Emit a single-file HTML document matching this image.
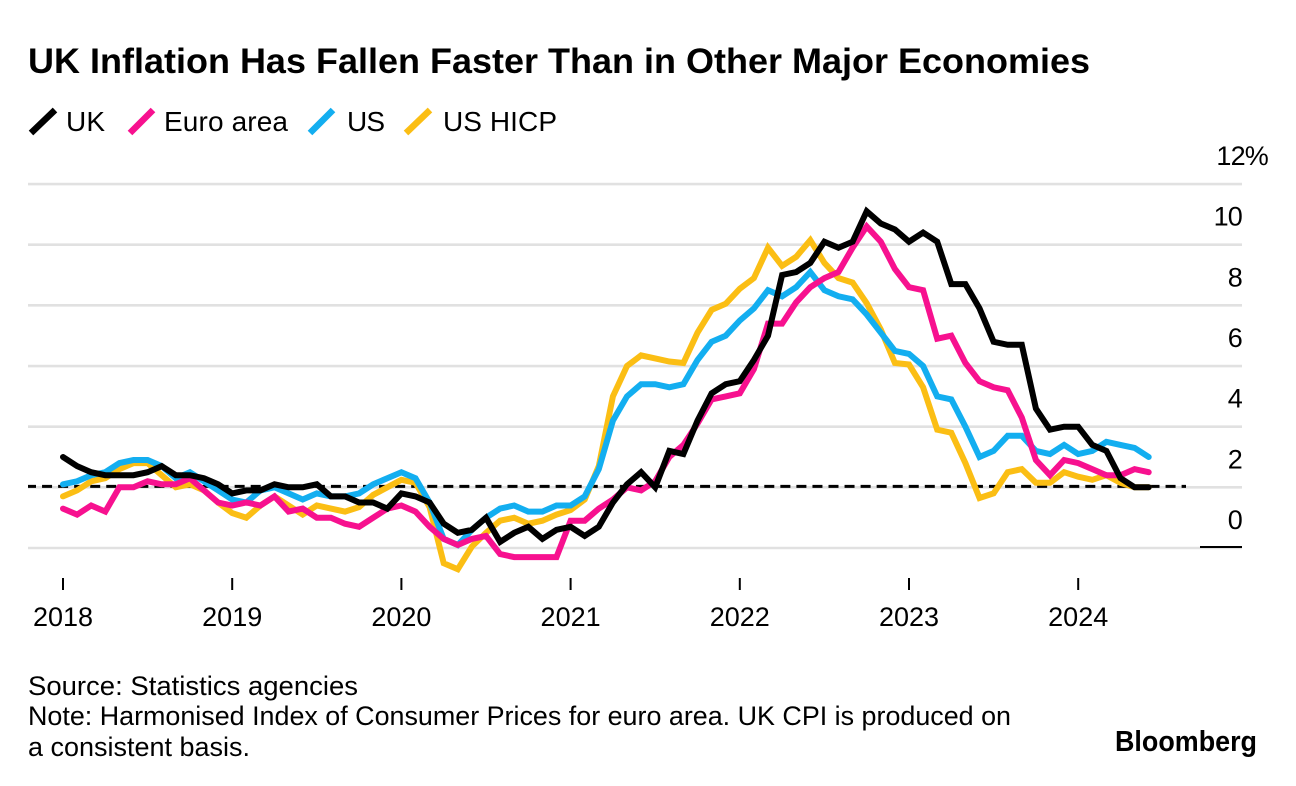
<!DOCTYPE html>
<html lang="en">
<head>
<meta charset="utf-8">
<title>UK Inflation Has Fallen Faster Than in Other Major Economies</title>
<style>
html,body{margin:0;padding:0;background:#fff;}
#chart{display:block;width:1296px;height:786px;font-family:"Liberation Sans",Arial,sans-serif;fill:#000;}
</style>
</head>
<body>
<svg id="chart" xmlns="http://www.w3.org/2000/svg" width="1296" height="786" viewBox="0 0 1296 786">
  <rect x="0" y="0" width="1296" height="786" fill="#fff"/>
  <text x="28" y="73" font-size="35.3" font-weight="700" textLength="1062" lengthAdjust="spacingAndGlyphs">UK Inflation Has Fallen Faster Than in Other Major Economies</text>

  <g>
    <g>
      <line x1="31" y1="133" x2="55" y2="110" stroke="#000" stroke-width="6.5"/>
      <text x="66" y="131" font-size="28" textLength="39" lengthAdjust="spacing">UK</text>
    </g>
    <g>
      <line x1="130" y1="133" x2="153" y2="110" stroke="#f7118f" stroke-width="6.5"/>
      <text x="164" y="131" font-size="28" textLength="124" lengthAdjust="spacing">Euro area</text>
    </g>
    <g>
      <line x1="310" y1="133" x2="333" y2="110" stroke="#13aef0" stroke-width="6.5"/>
      <text x="347" y="131" font-size="28" textLength="38" lengthAdjust="spacing">US</text>
    </g>
    <g>
      <line x1="406" y1="133" x2="430" y2="110" stroke="#fbbe14" stroke-width="6.5"/>
      <text x="443" y="131" font-size="28" textLength="114" lengthAdjust="spacing">US HICP</text>
    </g>
  </g>

  <g id="grid"></g>
  <g id="yLabels"></g>
  <g id="xAxis"></g>
  <g id="refLine"></g>
  <g id="series"></g>

  <text x="28" y="695" font-size="26.6" textLength="330" lengthAdjust="spacingAndGlyphs">Source: Statistics agencies</text>
  <text x="28" y="725" font-size="26.6" textLength="983" lengthAdjust="spacingAndGlyphs">Note: Harmonised Index of Consumer Prices for euro area. UK CPI is produced on</text>
  <text x="28" y="756" font-size="26.6" textLength="222" lengthAdjust="spacingAndGlyphs">a consistent basis.</text>
  <text x="1115" y="751" font-size="28.5" font-weight="700" textLength="142" lengthAdjust="spacingAndGlyphs">Bloomberg</text>
</svg>
<script>
// Monthly data, Jan 2018 - Jun 2024 (% year on year)
const years = ['2018','2019','2020','2021','2022','2023','2024'];
const yTickValues = [0,2,4,6,8,10,12];
const yTickLabels = ['0','2','4','6','8','10','12%'];
const refValue = 2;
const ukValues = [3.0,2.7,2.5,2.4,2.4,2.4,2.5,2.7,2.4,2.4,2.3,2.1,
  1.8,1.9,1.9,2.1,2.0,2.0,2.1,1.7,1.7,1.5,1.5,1.3,
  1.8,1.7,1.5,0.8,0.5,0.6,1.0,0.2,0.5,0.7,0.3,0.6,
  0.7,0.4,0.7,1.5,2.1,2.5,2.0,3.2,3.1,4.2,5.1,5.4,
  5.5,6.2,7.0,9.0,9.1,9.4,10.1,9.9,10.1,11.1,10.7,10.5,
  10.1,10.4,10.1,8.7,8.7,7.9,6.8,6.7,6.7,4.6,3.9,4.0,
  4.0,3.4,3.2,2.3,2.0,2.0];
const euroValues = [1.3,1.1,1.4,1.2,2.0,2.0,2.2,2.1,2.1,2.3,1.9,1.5,
  1.4,1.5,1.4,1.7,1.2,1.3,1.0,1.0,0.8,0.7,1.0,1.3,
  1.4,1.2,0.7,0.3,0.1,0.3,0.4,-0.2,-0.3,-0.3,-0.3,-0.3,
  0.9,0.9,1.3,1.6,2.0,1.9,2.2,3.0,3.4,4.1,4.9,5.0,
  5.1,5.9,7.4,7.4,8.1,8.6,8.9,9.1,9.9,10.6,10.1,9.2,
  8.6,8.5,6.9,7.0,6.1,5.5,5.3,5.2,4.3,2.9,2.4,2.9,
  2.8,2.6,2.4,2.4,2.6,2.5];
const usValues = [2.1,2.2,2.4,2.5,2.8,2.9,2.9,2.7,2.3,2.5,2.2,1.9,
  1.6,1.5,1.9,2.0,1.8,1.6,1.8,1.7,1.7,1.8,2.1,2.3,
  2.5,2.3,1.5,0.3,0.1,0.6,1.0,1.3,1.4,1.2,1.2,1.4,
  1.4,1.7,2.6,4.2,5.0,5.4,5.4,5.3,5.4,6.2,6.8,7.0,
  7.5,7.9,8.5,8.3,8.6,9.1,8.5,8.3,8.2,7.7,7.1,6.5,
  6.4,6.0,5.0,4.9,4.0,3.0,3.2,3.7,3.7,3.2,3.1,3.4,
  3.1,3.2,3.5,3.4,3.3,3.0];
const usHicpValues = [1.7,1.9,2.2,2.3,2.6,2.8,2.8,2.4,2.0,2.1,1.9,1.5,
  1.15,1.0,1.4,1.7,1.4,1.1,1.4,1.3,1.2,1.35,1.75,2.0,
  2.25,2.15,1.35,-0.5,-0.7,0.05,0.5,0.9,1.0,0.8,0.9,1.1,
  1.25,1.6,2.7,5.0,6.0,6.35,6.25,6.15,6.1,7.1,7.85,8.05,
  8.55,8.9,9.9,9.3,9.6,10.15,9.4,8.9,8.75,8.07,7.2,6.1,
  6.05,5.3,3.9,3.8,2.8,1.65,1.8,2.5,2.6,2.15,2.15,2.5,
  2.35,2.25,2.4,2.15,2.0,2.0];

const SVG_NS = 'http://www.w3.org/2000/svg';
const plot = {left: 28, right: 1242, x0: 63, monthW: 14.1, y0: 548, unit: 30.33};
function xScale(monthIndex){ return plot.x0 + monthIndex * plot.monthW; }
function yScale(value){ return plot.y0 - value * plot.unit; }
function make(tag, attrs){
  const el = document.createElementNS(SVG_NS, tag);
  for (const k in attrs) el.setAttribute(k, attrs[k]);
  return el;
}

// Gridlines and y labels
const gridG = document.getElementById('grid');
const yLabelG = document.getElementById('yLabels');
yTickValues.forEach(function(v, i){
  const y = yScale(v);
  const line = make('line', {x1: plot.left, y1: y, x2: plot.right, y2: y, stroke: '#e1e1e1', 'stroke-width': 2.6});
  
  
  gridG.appendChild(line);
  const isPct = yTickLabels[i].indexOf('%') >= 0;
  const t = make('text', {x: isPct ? 1268 : 1242, y: y - 19, 'font-size': 27, 'text-anchor': 'end', 'letter-spacing': '-0.8'});
  
  
  t.textContent = yTickLabels[i];
  yLabelG.appendChild(t);
});
// Zero baseline accent at the right edge
const zeroAccent = make('line', {x1: 1200, y1: yScale(0) - 1, x2: plot.right, y2: yScale(0) - 1, stroke: '#000', 'stroke-width': 2});


gridG.appendChild(zeroAccent);

// X axis
const xG = document.getElementById('xAxis');
years.forEach(function(label, i){
  const x = xScale(i * 12);
  const tick = make('line', {x1: x, y1: 578, x2: x, y2: 590, stroke: '#000', 'stroke-width': 2});
  
  
  xG.appendChild(tick);
  const t = make('text', {x: x, y: 626, 'font-size': 27, 'text-anchor': 'middle'});
  
  
  t.textContent = label;
  xG.appendChild(t);
});

// Dashed 2% reference line
const refEl = make('line', {x1: plot.left, y1: yScale(refValue) - 1, x2: 1186, y2: yScale(refValue) - 1, stroke: '#000', 'stroke-width': 3, 'stroke-dasharray': '10 6.05', 'stroke-dashoffset': 2});


document.getElementById('refLine').appendChild(refEl);

// Series lines
function drawSeries(values, color, name){
  const pts = values.map(function(v, i){ return xScale(i).toFixed(1) + ',' + yScale(v).toFixed(1); }).join(' ');
  const poly = make('polyline', {points: pts, fill: 'none', stroke: color, 'stroke-width': 6, 'stroke-linejoin': 'miter', 'stroke-miterlimit': 4, 'stroke-linecap': 'round'});
  
  
  document.getElementById('series').appendChild(poly);
}
drawSeries(usHicpValues, '#fbbe14', 'series-us-hicp');
drawSeries(usValues, '#13aef0', 'series-us');
drawSeries(euroValues, '#f7118f', 'series-euro-area');
drawSeries(ukValues, '#000000', 'series-uk');
</script>
</body>
</html>
